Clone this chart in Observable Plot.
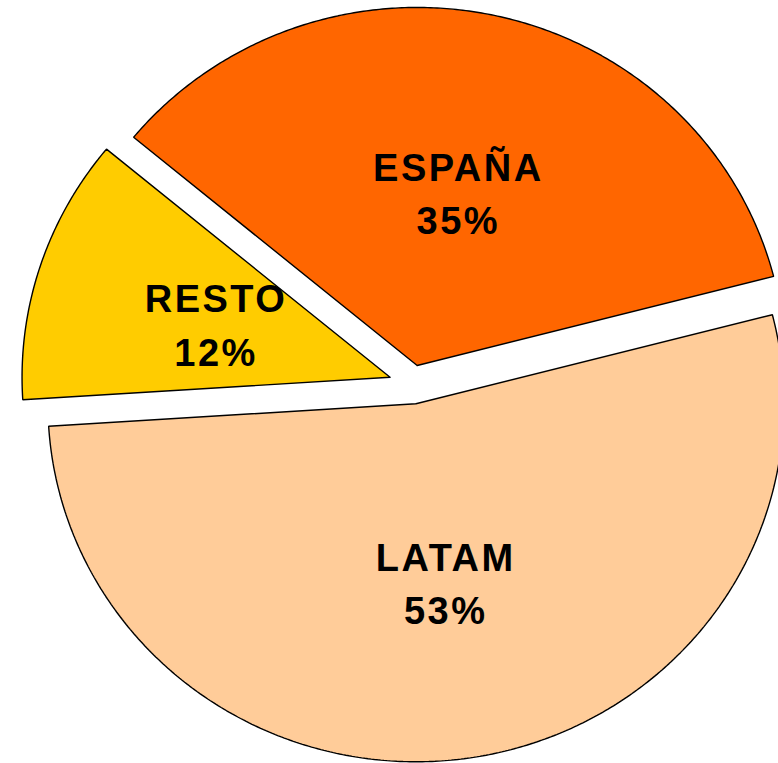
<!DOCTYPE html>
<html>
<head>
<meta charset="utf-8">
<script src="https://cdn.jsdelivr.net/npm/d3@7"></script>
<script src="https://cdn.jsdelivr.net/npm/@observablehq/plot@0.6"></script>
<style>
  html, body { margin: 0; padding: 0; background: #fff; }
  #chart svg { display: block; }
  #chart svg text { letter-spacing: 2.5px; }
</style>
</head>
<body>
<div id="chart"></div>
<script>
// ---- data ----
const regions = ["ESPAÑA", "LATAM", "RESTO"];
const shares = [35, 53, 12];
const sliceColors = ["#FF6600", "#FFCC99", "#FFCC00"];

// ---- layout ----
const W = 778, H = 763;
const cx = 412.3, cy = 384.0;      // pixel centre of the (unexploded) pie
const rx = 368, ry = 358;          // pixel radii
const startDeg = -50.4;            // first slice start, clockwise from 12 o'clock
const explode = [0.0545, 0.0545, 0.065];
const labelR = 0.5;

const total = d3.sum(shares);
const rad = d => d * Math.PI / 180;

const polys = [];
const labelPts = [];
let acc = startDeg;
regions.forEach((name, i) => {
  const span = shares[i] / total * 360;
  const a0 = acc, a1 = acc + span, mid = (a0 + a1) / 2;
  acc = a1;
  const ox = explode[i] * Math.sin(rad(mid));
  const oy = explode[i] * Math.cos(rad(mid));
  polys.push({name, x: ox, y: oy});
  const n = Math.ceil(span * 2);
  for (let k = 0; k <= n; k++) {
    const t = rad(a0 + (a1 - a0) * k / n);
    polys.push({name, x: ox + Math.sin(t), y: oy + Math.cos(t)});
  }
  polys.push({name, x: ox, y: oy});
  labelPts.push({
    name, value: shares[i],
    x: ox + labelR * Math.sin(rad(mid)),
    y: oy + labelR * Math.cos(rad(mid))
  });
});

const chart = Plot.plot({
  width: W,
  height: H,
  margin: 0,
  style: {background: "#fff", overflow: "hidden"},
  x: {axis: null, domain: [-cx / rx, (W - cx) / rx], range: [0, W]},
  y: {axis: null, domain: [(cy - H) / ry, cy / ry], range: [H, 0]},
  color: {domain: regions, range: sliceColors},
  marks: [
    Plot.line(polys, {
      x: "x", y: "y", z: "name", fill: "name",
      stroke: "black", strokeWidth: 1.4, strokeLinejoin: "miter", curve: "linear"
    }),
    Plot.text(labelPts, {
      x: "x", y: "y", dx: 1,
      text: d => `${d.name}\n${d.value}%`,
      fontSize: 38, fontWeight: "bold",
      fontFamily: "'Liberation Sans', Arial, sans-serif",
      lineHeight: 1.4, fill: "black", lineAnchor: "middle", textAnchor: "middle"
    })
  ]
});
document.getElementById("chart").appendChild(chart);
</script>
</body>
</html>
